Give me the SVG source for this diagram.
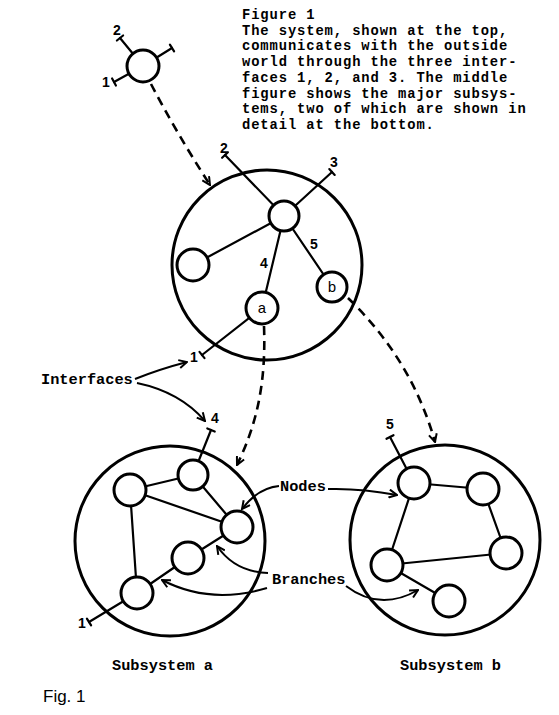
<svg xmlns="http://www.w3.org/2000/svg" width="559" height="715" viewBox="0 0 559 715">
<style>
.big{fill:none;stroke:#000;stroke-width:3}
.nd{fill:#fff;stroke:#000;stroke-width:3}
.ed{stroke:#000;stroke-width:2.2;fill:none;stroke-linecap:round}
.dash{stroke:#000;stroke-width:2.6;fill:none;stroke-dasharray:9 6}
.arr{stroke:#000;stroke-width:2;fill:none}
.mono{font-family:"Liberation Mono","DejaVu Sans Mono",monospace;font-size:15.3px;fill:#000;font-weight:bold}
.cap{font-family:"Liberation Mono","DejaVu Sans Mono",monospace;font-size:13.8px;letter-spacing:0.9px;fill:#000;font-weight:bold}
.num{font-family:"Liberation Sans","DejaVu Sans",sans-serif;font-size:14px;fill:#000;font-weight:bold;text-anchor:middle}
.lbl{font-family:"Liberation Mono","DejaVu Sans Mono",monospace;font-size:15px;fill:#000;text-anchor:middle}
</style>
<defs>
<marker id="ah" viewBox="0 0 10 10" refX="9" refY="5" markerWidth="10" markerHeight="10" markerUnits="userSpaceOnUse" orient="auto">
<path d="M1,1 L9,5 L1,9" fill="none" stroke="#000" stroke-width="2" stroke-dasharray="none"/>
</marker>
</defs>

<g id="caption">
<text class="cap" x="242" y="19">Figure 1</text>
<text class="cap" x="242" y="34.7">The system, shown at the top,</text>
<text class="cap" x="242" y="50.4">communicates with the outside</text>
<text class="cap" x="242" y="66.1">world through the three inter-</text>
<text class="cap" x="242" y="81.8">faces 1, 2, and 3.  The middle</text>
<text class="cap" x="242" y="97.5">figure shows the major subsys-</text>
<text class="cap" x="242" y="113.2">tems, two of which are shown in</text>
<text class="cap" x="242" y="128.9">detail at the bottom.</text>
</g>

<g id="system-mid"><circle class="big" cx="267" cy="265" r="95"/></g>
<g id="subsystem-a"><circle class="big" cx="170" cy="541" r="95"/></g>
<g id="subsystem-b"><circle class="big" cx="445" cy="540" r="95"/></g>

<g id="connectors">
<!-- top system interfaces -->
<line class="ed" x1="143" y1="66" x2="120" y2="38"/><line class="ed" x1="116.9" y1="40.5" x2="123.1" y2="35.5"/>
<line class="ed" x1="143" y1="66" x2="172" y2="48"/><line class="ed" x1="169.9" y1="44.6" x2="174.1" y2="51.4"/>
<line class="ed" x1="143" y1="66" x2="114" y2="82"/><line class="ed" x1="112.1" y1="78.5" x2="115.9" y2="85.5"/>
<!-- middle system -->
<line class="ed" x1="284" y1="216" x2="225" y2="155"/><line class="ed" x1="222.1" y1="157.8" x2="227.9" y2="152.2"/>
<line class="ed" x1="284" y1="216" x2="332" y2="172"/><line class="ed" x1="329.3" y1="169.1" x2="334.7" y2="174.9"/>
<line class="ed" x1="284" y1="216" x2="193" y2="265"/>
<line class="ed" x1="284" y1="216" x2="262" y2="308"/>
<line class="ed" x1="284" y1="216" x2="332" y2="287"/>
<line class="ed" x1="262" y1="308" x2="202" y2="355"/><line class="ed" x1="199.5" y1="351.9" x2="204.5" y2="358.1"/>
<!-- subsystem a -->
<line class="ed" x1="193" y1="475" x2="211" y2="430"/><line class="ed" x1="207.3" y1="428.5" x2="214.7" y2="431.5"/>
<line class="ed" x1="130" y1="490" x2="193" y2="475"/>
<line class="ed" x1="130" y1="490" x2="237" y2="527"/>
<line class="ed" x1="193" y1="475" x2="237" y2="527"/>
<line class="ed" x1="130" y1="490" x2="137" y2="593"/>
<line class="ed" x1="237" y1="527" x2="188" y2="558"/>
<line class="ed" x1="188" y1="558" x2="137" y2="593"/>
<line class="ed" x1="137" y1="593" x2="89" y2="622"/><line class="ed" x1="86.9" y1="618.6" x2="91.1" y2="625.4"/>
<!-- subsystem b -->
<line class="ed" x1="414" y1="483" x2="390" y2="437"/><line class="ed" x1="386.5" y1="438.8" x2="393.5" y2="435.2"/>
<line class="ed" x1="414" y1="483" x2="483" y2="489"/>
<line class="ed" x1="483" y1="489" x2="506" y2="553"/>
<line class="ed" x1="414" y1="483" x2="387" y2="565"/>
<line class="ed" x1="387" y1="565" x2="506" y2="553"/>
<line class="ed" x1="387" y1="565" x2="449" y2="601"/>
<!-- dashed refinement arrows -->
<path class="dash" d="M151,84 Q176,132 210,185" marker-end="url(#ah)"/>
<path class="dash" d="M264,326 C266,380 258,422 237,465" marker-end="url(#ah)"/>
<path class="dash" d="M348,298 Q412,360 435,442" marker-end="url(#ah)"/>
<!-- label arrows -->
<path class="arr" d="M135,379 Q160,369 187,362" marker-end="url(#ah)"/>
<path class="arr" d="M137,383 Q180,392 205,421" marker-end="url(#ah)"/>
<path class="arr" d="M279,486 Q258,488 242,509" marker-end="url(#ah)"/>
<path class="arr" d="M328,489 Q360,488 397,495" marker-end="url(#ah)"/>
<path class="arr" d="M268,573 Q235,572 217,546" marker-end="url(#ah)"/>
<path class="arr" d="M267,588 Q210,605 162,580" marker-end="url(#ah)"/>
<path class="arr" d="M346,586 Q380,612 418,590" marker-end="url(#ah)"/>
</g>

<g id="top-system"><circle class="nd" cx="143" cy="66" r="16"/></g>
<g id="hub"><circle class="nd" cx="284" cy="216" r="15"/></g>
<g id="mid-left"><circle class="nd" cx="193" cy="265" r="16"/></g>
<g id="node-a"><circle class="nd" cx="262" cy="308" r="16"/><text class="lbl" x="262" y="313">a</text></g>
<g id="node-b"><circle class="nd" cx="332" cy="287" r="15"/><text class="lbl" x="332" y="292">b</text></g>

<g id="a1"><circle class="nd" cx="193" cy="475" r="15"/></g>
<g id="a2"><circle class="nd" cx="130" cy="490" r="16"/></g>
<g id="a3"><circle class="nd" cx="237" cy="527" r="16"/></g>
<g id="a4"><circle class="nd" cx="188" cy="558" r="16"/></g>
<g id="a5"><circle class="nd" cx="137" cy="593" r="16"/></g>

<g id="b1"><circle class="nd" cx="414" cy="483" r="16"/></g>
<g id="b2"><circle class="nd" cx="483" cy="489" r="16"/></g>
<g id="b3"><circle class="nd" cx="506" cy="553" r="16"/></g>
<g id="b4"><circle class="nd" cx="387" cy="565" r="16"/></g>
<g id="b5"><circle class="nd" cx="449" cy="601" r="16"/></g>

<g id="numbers">
<text class="num" x="117" y="35">2</text>
<text class="num" x="106" y="87">1</text>
<text class="num" x="224" y="153">2</text>
<text class="num" x="334" y="167">3</text>
<text class="num" x="264" y="268">4</text>
<text class="num" x="314" y="249">5</text>
<text class="num" x="194" y="362">1</text>
<text class="num" x="215" y="423">4</text>
<text class="num" x="82" y="628">1</text>
<text class="num" x="390" y="429">5</text>
</g>

<g id="labels">
<text class="mono" x="41" y="384">Interfaces</text>
<text class="mono" x="280" y="491">Nodes</text>
<text class="mono" x="272" y="584">Branches</text>
<text class="mono" x="112" y="670">Subsystem a</text>
<text class="mono" x="400" y="670">Subsystem b</text>
<text x="43" y="702" style="font-family:'Liberation Sans','DejaVu Sans',sans-serif;font-size:17px;fill:#000">Fig.  1</text>
</g>
</svg>
